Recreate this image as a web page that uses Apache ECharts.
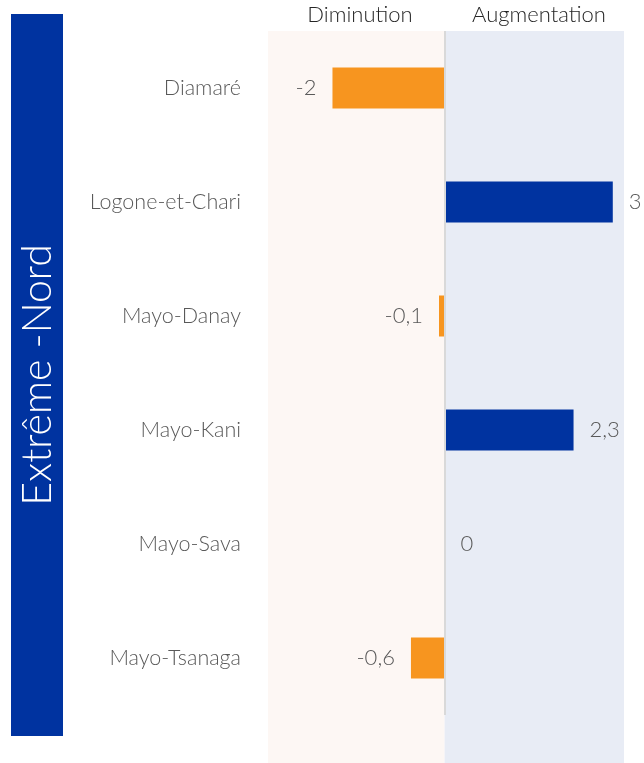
<!DOCTYPE html>
<html>
<head>
<meta charset="utf-8">
<script src="https://cdn.jsdelivr.net/npm/echarts@6/dist/echarts.min.js"></script>
<style>
  html, body { margin: 0; padding: 0; background: #ffffff; }
  #chart { width: 644px; height: 763px; }
</style>
</head>
<body>
<div id="chart"></div>
<script>
// données : variation par département (Extrême-Nord)
var regionName = 'Extrême -Nord';
var categories = ['Diamaré', 'Logone-et-Chari', 'Mayo-Danay', 'Mayo-Kani', 'Mayo-Sava', 'Mayo-Tsanaga'];
var values = [-2, 3, -0.1, 2.3, 0, -0.6];
var panelTitles = ['Diminution', 'Augmentation'];
var axisMin = -3.15;
var axisMax = 3.2;

var orange = '#F7951F';
var blue = '#0033A0';

var myChart = echarts.init(document.getElementById('chart'));

var barData = values.map(function (v) {
  return {
    value: v,
    itemStyle: { color: v < 0 ? orange : blue },
    label: { position: v < 0 ? 'left' : 'right' }
  };
});

var option = {
  animation: false,
  backgroundColor: '#ffffff',
  textStyle: { fontFamily: 'Lato' },
  grid: [
    { left: 268, right: 20, top: 31, bottom: 48 },   // barres
    { left: 268, right: 20, top: 31, bottom: 0 }     // fonds des panneaux
  ],
  xAxis: [
    { gridIndex: 0, type: 'value', min: axisMin, max: axisMax, show: false },
    { gridIndex: 1, type: 'value', min: axisMin, max: axisMax, show: false }
  ],
  yAxis: [
    {
      gridIndex: 0,
      type: 'category',
      inverse: true,
      data: categories,
      axisLine: { show: false, onZero: false },
      axisTick: { show: false },
      splitLine: { show: false },
      axisLabel: { margin: 27, fontSize: 21.5, color: '#595959', fontFamily: 'Lato', fontWeight: 300, padding: [4, 0, 0, 0] }
    },
    { gridIndex: 1, type: 'value', min: 0, max: 1, show: false }
  ],
  graphic: [
    {
      type: 'rect',
      shape: { x: 11, y: 14, width: 52, height: 722 },
      style: { fill: blue }
    },
    {
      type: 'text',
      x: 38, y: 375,
      rotation: Math.PI / 2,
      style: {
        text: regionName, fill: '#ffffff', fontSize: 41, fontFamily: 'Lato', fontWeight: 300,
        align: 'center', verticalAlign: 'middle'
      }
    },
    {
      type: 'text',
      x: 360, y: 15,
      style: { text: panelTitles[0], fill: '#262626', fontSize: 22, fontFamily: 'Lato', fontWeight: 300, align: 'center', verticalAlign: 'middle' }
    },
    {
      type: 'text',
      x: 539, y: 15,
      style: { text: panelTitles[1], fill: '#262626', fontSize: 22, fontFamily: 'Lato', fontWeight: 300, align: 'center', verticalAlign: 'middle' }
    }
  ],
  series: [
    {
      type: 'line',
      xAxisIndex: 1,
      yAxisIndex: 1,
      data: [],
      silent: true,
      markArea: {
        silent: true,
        data: [
          [{ xAxis: axisMin, itemStyle: { color: '#FDF7F4' } }, { xAxis: 0 }],
          [{ xAxis: 0, itemStyle: { color: '#E8ECF5' } }, { xAxis: axisMax }]
        ]
      }
    },
    {
      type: 'bar',
      xAxisIndex: 0,
      yAxisIndex: 0,
      barWidth: 41,
      data: barData,
      label: {
        show: true,
        distance: 16,
        fontSize: 22,
        fontFamily: 'Lato',
        fontWeight: 300,
        color: '#595959',
        padding: [4, 0, 0, 0],
        formatter: function (p) { return String(p.value).replace('.', ','); }
      },
      markLine: {
        silent: true,
        symbol: 'none',
        label: { show: false },
        lineStyle: { color: '#D9D9D9', width: 2, type: 'solid' },
        data: [{ xAxis: 0 }]
      }
    }
  ]
};

myChart.setOption(option);
</script>
</body>
</html>
